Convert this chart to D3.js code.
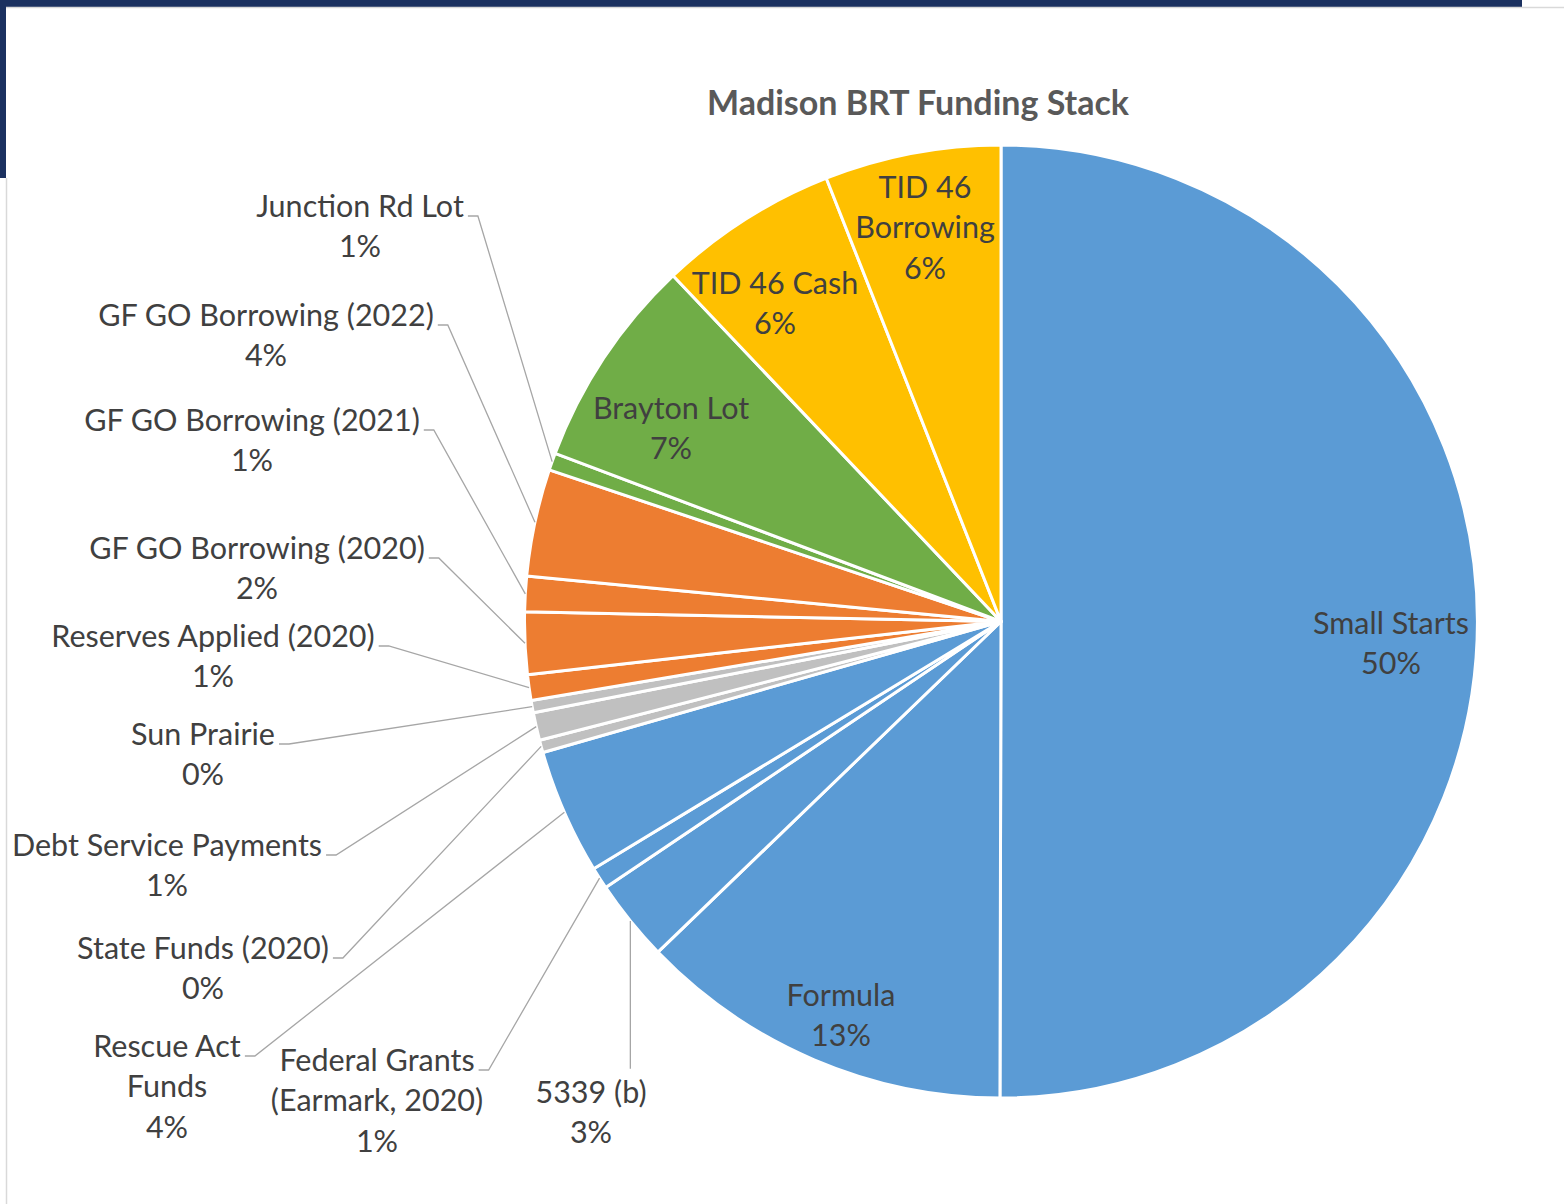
<!DOCTYPE html>
<html>
<head>
<meta charset="utf-8">
<script src="https://cdn.jsdelivr.net/npm/d3@7"></script>
<style>
	body { margin: 0; background: #fff; }
	svg { display: block; }
	text { font-family: Lato, "Open Sans", sans-serif; fill: #404040; }
</style>
</head>
<body>
<svg width="1564" height="1204"></svg>
<script>
// slices in clockwise order from 12 o'clock, values in % of the stack
const categories = [
	"Small Starts",
	"Formula",
	"5339 (b)",
	"Federal Grants (Earmark, 2020)",
	"Rescue Act Funds",
	"State Funds (2020)",
	"Debt Service Payments",
	"Sun Prairie",
	"Reserves Applied (2020)",
	"GF GO Borrowing (2020)",
	"GF GO Borrowing (2021)",
	"GF GO Borrowing (2022)",
	"Junction Rd Lot",
	"Brayton Lot",
	"TID 46 Cash",
	"TID 46 Borrowing",
];
const shares = [
	50.0, 12.75, 2.78, 0.74, 4.25, 0.42, 0.94, 0.42, 0.87, 2.1, 1.2, 3.63, 0.58,
	7.18, 6.1, 5.97,
];
const sources = [
	"federal", "federal", "federal", "federal", "federal",
	"other", "other", "other",
	"city", "city", "city", "city",
	"land", "land",
	"tid", "tid",
];

const colorScale = d3
	.scaleOrdinal()
	.domain(["federal", "other", "city", "land", "tid"])
	.range(["#5B9BD5", "#C0C0C0", "#ED7D31", "#70AD47", "#FFC000"]);

// label layout: center x, first line y, line breaks, leader side
const labelLayout = {
	"Small Starts": { x: 1391, y: 623 },
	Formula: { x: 841, y: 995 },
	"5339 (b)": { x: 591, y: 1092, leader: "top" },
	"Federal Grants (Earmark, 2020)": {
		x: 377, y: 1060, lines: ["Federal Grants", "(Earmark, 2020)"], leader: "right",
	},
	"Rescue Act Funds": { x: 167, y: 1046, lines: ["Rescue Act", "Funds"], leader: "right" },
	"State Funds (2020)": { x: 203, y: 948, leader: "right" },
	"Debt Service Payments": { x: 167, y: 845, leader: "right" },
	"Sun Prairie": { x: 203, y: 734, leader: "right" },
	"Reserves Applied (2020)": { x: 213, y: 636, leader: "right" },
	"GF GO Borrowing (2020)": { x: 257, y: 548, leader: "right" },
	"GF GO Borrowing (2021)": { x: 252, y: 420, leader: "right" },
	"GF GO Borrowing (2022)": { x: 266, y: 315, leader: "right" },
	"Junction Rd Lot": { x: 360, y: 206, leader: "right" },
	"Brayton Lot": { x: 671, y: 408 },
	"TID 46 Cash": { x: 775, y: 283 },
	"TID 46 Borrowing": { x: 925, y: 187, lines: ["TID 46", "Borrowing"] },
};

const width = 1564;
const height = 1204;
const cx = 1001;
const cy = 621.5;
const radius = 476.5;
const lineHeight = 40.5;

const svg = d3.select("svg");

// slide frame
svg.append("rect").attr("x", 0).attr("y", 0).attr("width", 1522).attr("height", 7).attr("fill", "#1B3160");
svg.append("rect").attr("x", 0).attr("y", 0).attr("width", 6).attr("height", 178).attr("fill", "#1B3160");
svg.append("line").attr("x1", 6.5).attr("x2", 6.5).attr("y1", 178).attr("y2", height)
	.attr("stroke", "#D9D9D9").attr("stroke-width", 1.5);
svg.append("line").attr("x1", 6).attr("x2", width).attr("y1", 7.5).attr("y2", 7.5)
	.attr("stroke", "#D9D9D9").attr("stroke-width", 1.5);

svg.append("text")
	.attr("x", 918)
	.attr("y", 115)
	.attr("text-anchor", "middle")
	.attr("font-size", 34)
	.attr("font-weight", "bold")
	.style("fill", "#595959")
	.text("Madison BRT Funding Stack");

const data = categories.map((name, i) => ({ name, share: shares[i], source: sources[i] }));
const total = d3.sum(shares);

const pie = d3.pie().sort(null).value((d) => d.share);
const arcs = pie(data);
const arcGen = d3.arc().innerRadius(0).outerRadius(radius);

const pieG = svg.append("g").attr("transform", `translate(${cx},${cy})`);
pieG.selectAll("path")
	.data(arcs)
	.enter()
	.append("path")
	.attr("d", arcGen)
	.attr("fill", (d) => colorScale(d.data.source))
	.attr("stroke", "#fff")
	.attr("stroke-width", 3)
	.attr("stroke-linejoin", "round");

const leaderG = svg.append("g");
const labelG = svg.append("g");

arcs.forEach((d) => {
	const lay = labelLayout[d.data.name];
	const lines = (lay.lines || [d.data.name]).concat(
		Math.round((d.data.share / total) * 100) + "%",
	);
	const t = labelG.append("text")
		.attr("text-anchor", "middle")
		.attr("font-size", 30.5);
	lines.forEach((line, i) => {
		t.append("tspan")
			.attr("x", lay.x)
			.attr("y", lay.y + i * lineHeight)
			.attr("dy", "0.35em")
			.text(line);
	});

	if (!lay.leader) return;
	const mid = (d.startAngle + d.endAngle) / 2;
	const ex = cx + radius * Math.sin(mid);
	const ey = cy - radius * Math.cos(mid);
	const first = t.select("tspan").node().getBBox();
	let pts;
	if (lay.leader === "right") {
		const sx = first.x + first.width + 4;
		const sy = lay.y + 10;
		pts = [[sx, sy], [sx + 10, sy], [ex, ey]];
	} else {
		pts = [[ex, first.y - 4], [ex, ey]];
	}
	leaderG.append("path")
		.attr("d", d3.line()(pts))
		.attr("fill", "none")
		.attr("stroke", "#A6A6A6")
		.attr("stroke-width", 1.3);
});
</script>
</body>
</html>
